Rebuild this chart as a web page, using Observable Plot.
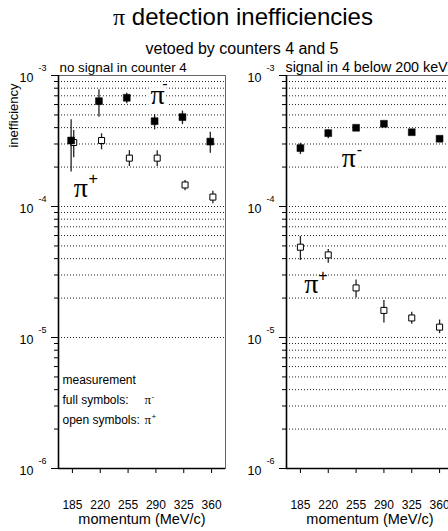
<!DOCTYPE html>
<html><head><meta charset="utf-8">
<script src="https://cdn.jsdelivr.net/npm/d3@7"></script>
<script src="https://cdn.jsdelivr.net/npm/@observablehq/plot@0.6"></script>
<style>
html,body{margin:0;padding:0;background:#fff;}
#chart{position:relative;width:448px;height:531px;overflow:hidden;font-family:"Liberation Sans",Arial,sans-serif;color:#000;background:#fff;}
#title{position:absolute;top:5px;left:243px;transform:translateX(-50%);font-size:24px;white-space:nowrap;line-height:1;}
#subtitle{position:absolute;top:41px;left:242px;transform:translateX(-50%);font-size:16px;white-space:nowrap;line-height:1;}
.pi{font-family:"Liberation Serif","DejaVu Serif",serif;}
#left,#right{position:absolute;top:0;}
#left{left:0px;}
#right{left:229px;}
</style></head><body>
<div id="chart">
  <div id="title"><span class="pi">π</span> detection inefficiencies</div>
  <div id="subtitle">vetoed by counters 4 and 5</div>
  <div id="left"></div>
  <div id="right"></div>
</div>
<script>
// ---- data ----
const momentum = [185, 220, 255, 290, 325, 360];
const xTicks = [185, 220, 255, 290, 325, 360];
const majorTicks = [1e-6, 1e-5, 1e-4, 1e-3];
const mantissas = [2, 3, 4, 5, 6, 7, 8, 9];

// panel 1: no signal in counter 4
const p1Minus   = [3.19e-4, 6.37e-4, 6.76e-4, 4.48e-4, 4.81e-4, 3.13e-4];
const p1MinusLo = [1.83e-4, 4.81e-4, 6.08e-4, 3.85e-4, 4.22e-4, 2.55e-4];
const p1MinusHi = [4.59e-4, 7.78e-4, 7.33e-4, 5.04e-4, 5.35e-4, 3.69e-4];
const p1Plus    = [3.08e-4, 3.19e-4, 2.34e-4, 2.34e-4, 1.46e-4, 1.18e-4];
const p1PlusLo  = [2.36e-4, 2.71e-4, 2.02e-4, 2.02e-4, 1.32e-4, 1.05e-4];
const p1PlusHi  = [3.80e-4, 3.59e-4, 2.67e-4, 2.67e-4, 1.58e-4, 1.31e-4];

// panel 2: signal in 4 below 200 keV
const p2Minus   = [2.79e-4, 3.63e-4, 3.99e-4, 4.28e-4, 3.69e-4, 3.29e-4];
const p2MinusLo = [2.49e-4, 3.29e-4, 3.85e-4, 4.13e-4, 3.56e-4, 3.17e-4];
const p2MinusHi = [3.04e-4, 3.85e-4, 4.14e-4, 4.44e-4, 3.83e-4, 3.41e-4];
const p2Plus    = [4.89e-5, 4.27e-5, 2.39e-5, 1.61e-5, 1.41e-5, 1.20e-5];
const p2PlusLo  = [3.87e-5, 3.69e-5, 2.00e-5, 1.29e-5, 1.26e-5, 1.07e-5];
const p2PlusHi  = [5.90e-5, 4.70e-5, 2.75e-5, 1.92e-5, 1.56e-5, 1.36e-5];

// in-plot particle labels (momentum, inefficiency)
const p1Labels = [
  {m: 292, v: 7.1e-4, sign: "-", sdx: 7.5, sdy: -11.5},
  {m: 195.5, v: 1.38e-4, sign: "+", sdx: 12.5, sdy: -9.5}
];
const p2Labels = [
  {m: 246, v: 2.34e-4, sign: "-", sdx: 10.5, sdy: -8.5},
  {m: 198.7, v: 2.58e-5, sign: "+", sdx: 11.5, sdy: -7.5}
];

const minorTicks = [-6, -5, -4].flatMap(e => mantissas.map(k => k * 10 ** e));
const grid1 = [-5, -4].flatMap(e => [1, ...mantissas].map(k => k * 10 ** e));
const grid2 = [-6, -5, -4].flatMap(e => (e === -6 ? mantissas : [1, ...mantissas]).map(k => k * 10 ** e));

const rows = (v, lo, hi) => momentum.map((m, i) => ({m, v: v[i], lo: lo[i], hi: hi[i]}));
const serif = "Liberation Serif, DejaVu Serif, serif";

function panel({title, titleDx, titleSize, minus, plus, grid, labels, dxMinus, dxPlus, marginLeft, width, extra}) {
  return Plot.plot({
    width, height: 531,
    marginLeft, marginRight: 5, marginTop: 75, marginBottom: 63,
    style: {background: "transparent", overflow: "visible", maxWidth: "none",
            fontFamily: "Liberation Sans, Arial, sans-serif", color: "#000"},
    x: {domain: [167.5, 377.5], axis: null},
    y: {type: "log", domain: [1e-6, 1e-3], axis: null},
    marks: [
      Plot.ruleY(grid, {stroke: "#222", strokeWidth: 1, strokeDasharray: "1,2"}),
      ...labels.map(l => Plot.text([l], {x: "m", y: "v", text: () => "π", fontFamily: serif,
        fontSize: 28, fill: "black", stroke: "white", strokeWidth: 7, paintOrder: "stroke"})),
      Plot.frame({stroke: "#666"}),
      Plot.ruleX([167.5], {stroke: "#000", strokeWidth: 1.6}),
      Plot.ruleY([1e-6], {stroke: "#000", strokeWidth: 1.6}),
      Plot.axisY(minorTicks, {tickSize: 4, fill: "none", label: null, stroke: "#000"}),
      Plot.axisY(majorTicks, {tickSize: 7, fill: "none", label: null, stroke: "#000"}),
      Plot.text(majorTicks, {y: d => d, text: () => "10", frameAnchor: "left", dx: -25, dy: 2,
        textAnchor: "end", fontSize: 12.5}),
      Plot.text(majorTicks, {y: d => d, text: d => String(Math.round(Math.log10(d))), frameAnchor: "left",
        dx: -20, dy: -7, textAnchor: "start", fontSize: 9}),
      Plot.axisX(xTicks, {tickSize: 5, tickPadding: 27, fontSize: 12, label: null, stroke: "#000", fill: "#000"}),
      Plot.text(["momentum (MeV/c)"], {frameAnchor: "bottom", dy: 55, fontSize: 14.5}),
      Plot.text([title], {frameAnchor: "top-left", dx: titleDx, dy: -4, lineAnchor: "bottom",
        textAnchor: "start", fontSize: titleSize}),
      ...labels.map(l => Plot.text([l], {x: "m", y: "v", text: "sign", dx: l.sdx, dy: l.sdy,
        fontSize: 16, fill: "black"})),
      ...(extra || []),
      Plot.ruleX(plus, {x: "m", y1: "lo", y2: "hi", dx: dxPlus, stroke: "#222", strokeWidth: 1.3}),
      Plot.dot(plus, {x: "m", y: "v", dx: dxPlus, symbol: "square", r: 3.4, fill: "white", stroke: "black", strokeWidth: 1}),
      Plot.ruleX(minus, {x: "m", y1: "lo", y2: "hi", dx: dxMinus, stroke: "#222", strokeWidth: 1.3}),
      Plot.dot(minus, {x: "m", y: "v", dx: dxMinus, symbol: "square", r: 3.9, fill: "black", stroke: "black", strokeWidth: 0.5})
    ]
  });
}

const legendExtra = [
  Plot.text(["inefficiency"], {frameAnchor: "top-left", dx: -50, dy: 40, rotate: -90, textAnchor: "middle", fontSize: 13}),
  Plot.text(["measurement"], {frameAnchor: "bottom-left", dx: 4, dy: -85, textAnchor: "start", fontSize: 12}),
  Plot.text(["full symbols:"], {frameAnchor: "bottom-left", dx: 4, dy: -65, textAnchor: "start", fontSize: 12}),
  Plot.text(["open symbols:"], {frameAnchor: "bottom-left", dx: 4, dy: -45, textAnchor: "start", fontSize: 12}),
  Plot.text(["π"], {frameAnchor: "bottom-left", dx: 86, dy: -65, textAnchor: "start", fontSize: 13, fontFamily: serif}),
  Plot.text(["-"], {frameAnchor: "bottom-left", dx: 93, dy: -70, textAnchor: "start", fontSize: 8}),
  Plot.text(["π"], {frameAnchor: "bottom-left", dx: 86, dy: -45, textAnchor: "start", fontSize: 13, fontFamily: serif}),
  Plot.text(["+"], {frameAnchor: "bottom-left", dx: 93, dy: -50, textAnchor: "start", fontSize: 8})
];

document.getElementById("left").append(panel({
  title: "no signal in counter 4", titleDx: 1, titleSize: 13.4,
  minus: rows(p1Minus, p1MinusLo, p1MinusHi), plus: rows(p1Plus, p1PlusLo, p1PlusHi),
  grid: grid1, labels: p1Labels, dxMinus: -1.3, dxPlus: 1.3, marginLeft: 58, width: 230, extra: legendExtra
}));
document.getElementById("right").append(panel({
  title: "signal in 4 below 200 keV", titleDx: -1, titleSize: 14.3,
  minus: rows(p2Minus, p2MinusLo, p2MinusHi), plus: rows(p2Plus, p2PlusLo, p2PlusHi),
  grid: grid2, labels: p2Labels, dxMinus: 0, dxPlus: 0, marginLeft: 57, width: 229
}));
</script>
</body></html>
